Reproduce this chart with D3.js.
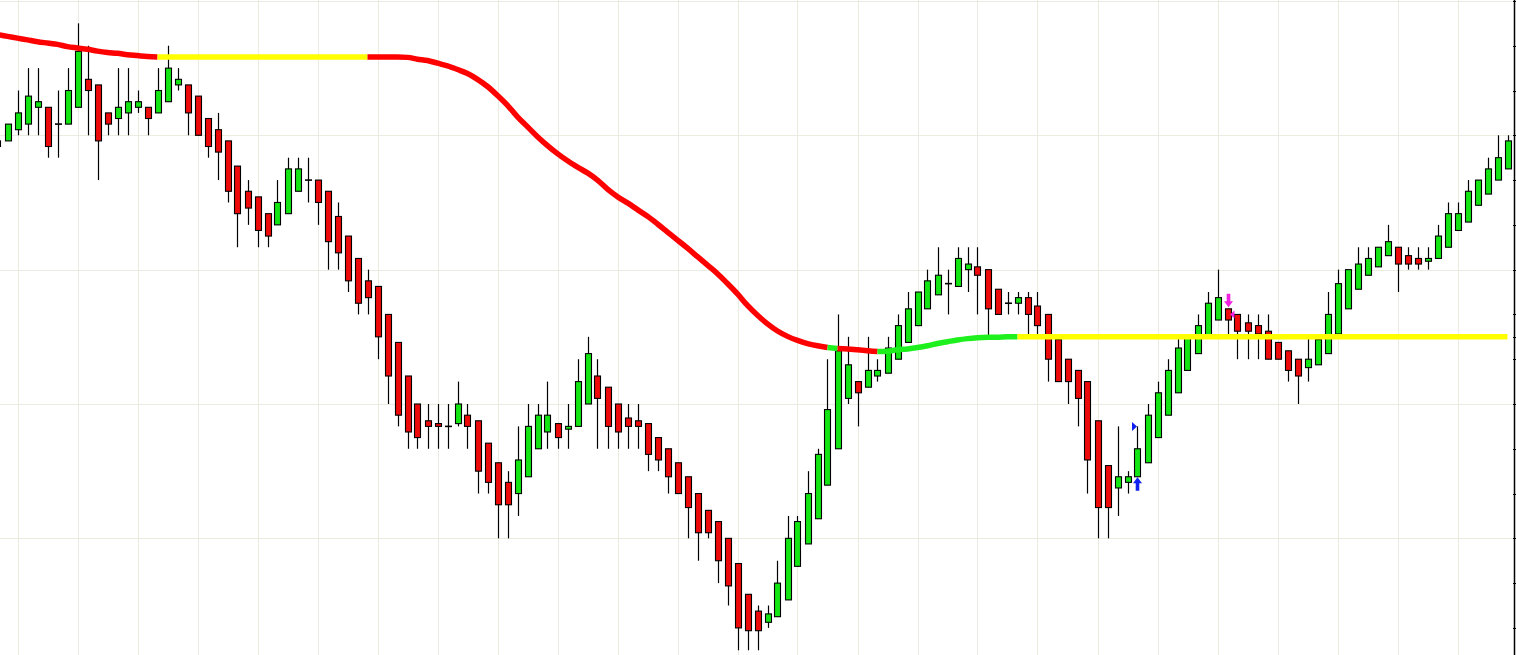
<!DOCTYPE html>
<html>
<head>
<meta charset="utf-8">
<script src="https://cdn.jsdelivr.net/npm/d3@7"></script>
<style>
  html, body { margin: 0; padding: 0; background: #fff; overflow: hidden; }
  svg { display: block; }
</style>
</head>
<body>
<div id="chart"></div>
<script>
// bar index -1 is the one cut by the left edge
const firstBar = -1;

const opens = [
  110.75, 110.875, 111.125, 111.25, 111.625, 111.625, 111.25, 111.25, 111.625, 112.25, 112.125,
  111.5, 111.375, 111.5, 111.625, 111.625, 111.5, 111.75, 112.125, 112.125, 111.875,
  111.375, 111.125, 110.875, 110.3125, 109.75, 109.625, 109.25, 109, 109.25, 109.75,
  110, 110, 109.75, 109.1875, 108.75, 108.25, 107.75, 107.625, 107, 106.375,
  105.625, 105, 104.625, 104.5625, 104.5, 104.5625, 104.75, 104.625, 104.125, 103.6875,
  103.25, 103, 103.375, 104, 104.375, 104.5625, 104.4375, 104.5, 105, 105.625,
  105.375, 105, 104.6875, 104.625, 104.5625, 104.25, 104, 103.6875, 103.375, 103,
  102.625, 102.375, 102, 101.4375, 100.75, 100.375, 100.125, 100.25, 100.625, 101.375,
  101.875, 102.4375, 103.1875, 104, 105.125, 105.5, 105.375, 105.625, 105.6875, 106,
  106.375, 106.75, 107.125, 107.4375, 107.6875, 107.625, 108, 108.0625, 108, 107.5625,
  107.25, 107.25, 107.375, 107.1875, 107, 106.4375, 106, 105.75, 105.5, 104.625,
  103.625, 103.125, 103.25, 103.375, 103.6875, 104.25, 104.75, 105.25, 105.75, 106.125,
  106.5, 106.875, 107.125, 107, 106.8125, 106.75, 106.625, 106.375, 106.1875, 106,
  105.8125, 105.875, 106.125, 106.5625, 107.125, 107.5625, 107.875, 108.0625, 108.3125, 108.5,
  108.3125, 108.25, 108.1875, 108.25, 108.5, 108.875, 109.0625, 109.4375, 109.6875, 110,
  110.25
];
const highs = [
  111, 111.25, 112, 112.5, 112.5, 111.625, 112, 112.5, 113.5, 113, 112.125,
  111.5, 112.5, 112.5, 112, 111.625, 112.5, 113, 112.5, 112.125, 111.875,
  111.375, 111.5, 110.875, 110.3125, 110, 109.625, 109.25, 110, 110.5, 110.5,
  110.5, 110, 109.75, 109.5, 108.75, 108.25, 108, 107.625, 107, 106.375,
  105.625, 105, 105, 105, 105, 105.5, 105, 104.625, 104.125, 103.6875,
  103.5, 104.5, 105, 105, 105.5, 104.5625, 105, 106, 106.5, 106,
  105.375, 105, 105, 105, 104.5625, 104.25, 104, 103.6875, 103.375, 103,
  102.625, 102.375, 102, 101.4375, 100.75, 100.5, 100.5, 101.5, 102.5, 102.5,
  103.5, 104, 106, 107, 106.5, 105.5, 106.5, 106, 106.5, 107,
  107.5, 107.5, 108, 108.5, 108, 108.5, 108.5, 108.5, 108, 107.5625,
  107.5, 107.5, 107.5, 107.5, 107, 106.4375, 106, 105.75, 105.5, 104.625,
  103.625, 104.5, 103.5, 104.5, 105, 105.5, 106, 106.5, 106.5, 107,
  107.5, 108, 107.125, 107, 107, 107, 107, 106.375, 106.1875, 106,
  106.5, 106.4375, 107.5, 108, 108, 108.5, 108.5, 108.5, 109, 108.5,
  108.5, 108.5, 108.5, 109, 109.5, 109.5, 110, 110, 110.5, 111,
  111
];
const lows = [
  110.625, 110.875, 111, 111, 111, 110.5, 110.5, 111.25, 111.625, 111, 110,
  111, 111, 111, 111.5, 111, 111.5, 111.75, 112, 111, 111,
  110.5, 110, 109.5, 108.5, 109, 108.5, 108.5, 109, 109.25, 109.75,
  109.5, 109, 108, 108, 107.5, 107, 107, 106, 105, 104.5,
  104, 104, 104, 104, 104, 104.5, 104, 103, 103, 102,
  102, 102.5, 103.375, 104, 104, 104, 104, 104.5, 105, 104,
  104, 104, 104, 104, 103.5, 103.5, 103, 103, 102, 101.5,
  102, 101, 100.5, 99.5, 99.5, 99.5, 100, 100.25, 100.625, 101.375,
  101.875, 102.4375, 103.1875, 104, 105, 104.5, 105.375, 105.5, 105.6875, 106,
  106.375, 106.75, 107.125, 107.4375, 107, 107.625, 107.5, 107, 106.5, 107,
  107, 107, 106.5, 106.5, 105.5, 105.5, 105, 104.5, 103, 102,
  102, 102.5, 103, 103.375, 103.6875, 104.25, 104.75, 105.25, 105.75, 106.125,
  106.5, 106.875, 106.5, 106, 106, 106, 106, 106, 105.5, 105,
  105.5, 105.875, 106.125, 106.5625, 107.125, 107.5625, 107.875, 108.0625, 108.3125, 107.5,
  108, 108, 108, 108.25, 108.5, 108.875, 109.0625, 109.4375, 109.6875, 110,
  110.25
];
const closes = [
  110.875, 111.25, 111.5, 111.875, 111.75, 110.75, 111.25, 112, 112.875, 112, 110.875,
  111.25, 111.625, 111.75, 111.75, 111.375, 112, 112.5, 112.25, 111.5, 111,
  110.75, 110.625, 109.75, 109.25, 109.375, 108.875, 108.75, 109.5, 110.25, 110.25,
  110, 109.5, 108.625, 108.375, 107.75, 107.25, 107.375, 106.5, 105.625, 104.75,
  104.375, 104.25, 104.5, 104.5, 104.5, 105, 104.5, 103.5, 103.25, 102.75,
  102.75, 103.75, 104.5, 104.75, 104.75, 104.25, 104.5, 105.5, 106.125, 105.125,
  104.5, 104.375, 104.5, 104.5, 103.875, 103.75, 103.375, 103, 102.6875, 102.125,
  102.125, 101.5, 100.9375, 100, 99.9375, 99.9375, 100.3125, 101, 102, 102.375,
  103, 103.875, 104.875, 106.1875, 105.875, 105.25, 105.75, 105.75, 106.25, 106.75,
  107.125, 107.5, 107.75, 107.875, 107.6875, 108.25, 108.125, 107.875, 107.125, 107,
  107.25, 107.375, 107, 106.75, 106, 105.5, 105.5, 105.125, 103.75, 102.6875,
  102.6875, 103.375, 103.375, 104, 104.75, 105.25, 105.75, 106.25, 106.5, 106.75,
  107.25, 107.375, 106.875, 106.625, 106.625, 106.5625, 106, 106, 105.75, 105.625,
  106, 106.4375, 107, 107.6875, 108, 108.125, 108.25, 108.5, 108.625, 108.125,
  108.125, 108.125, 108.25, 108.75, 109.25, 109.25, 109.75, 110, 110.25, 110.5,
  110.875
];

// smoothed average, one value per bar
const maValues = [
  113.25, 113.21, 113.17, 113.13, 113.09, 113.06, 113.03, 112.98, 112.95, 112.92, 112.88,
  112.85, 112.83, 112.80, 112.78, 112.76, 112.75, 112.75, 112.75, 112.75, 112.75,
  112.75, 112.75, 112.75, 112.75, 112.75, 112.75, 112.75, 112.75, 112.75, 112.75,
  112.75, 112.75, 112.75, 112.75, 112.75, 112.75, 112.75, 112.75, 112.75, 112.75,
  112.74, 112.70, 112.67, 112.61, 112.55, 112.47, 112.38, 112.25, 112.09, 111.89,
  111.67, 111.41, 111.19, 110.97, 110.77, 110.59, 110.43, 110.29, 110.16, 110.00,
  109.80, 109.63, 109.49, 109.34, 109.19, 109.02, 108.84, 108.66, 108.48, 108.29,
  108.10, 107.91, 107.69, 107.46, 107.20, 106.98, 106.79, 106.63, 106.51, 106.42,
  106.35, 106.30, 106.26, 106.24, 106.23, 106.21, 106.19, 106.17, 106.18, 106.21,
  106.23, 106.26, 106.30, 106.35, 106.39, 106.43, 106.46, 106.48, 106.49, 106.49,
  106.50, 106.50, 106.50, 106.50, 106.50, 106.50, 106.50, 106.50, 106.50, 106.50,
  106.50, 106.50, 106.50, 106.50, 106.50, 106.50, 106.50, 106.50, 106.50, 106.50,
  106.50, 106.50, 106.50, 106.50, 106.50, 106.50, 106.50, 106.50, 106.50, 106.50,
  106.50, 106.50, 106.50, 106.50, 106.50, 106.50, 106.50, 106.50, 106.50, 106.50,
  106.50, 106.50, 106.50, 106.50, 106.50, 106.50, 106.50, 106.50, 106.50, 106.50,
  106.50
];

// trend state of the average: [state, first bar, last bar]
const maTrendRuns = [
  ['down', -1, 15],
  ['flat', 16, 36],
  ['down', 37, 82],
  ['up', 83, 83],
  ['down', 84, 87],
  ['up', 88, 101],
  ['flat', 102, 150]
];

const signals = [
  { bar: 113, type: 'buy', level: 104.5 },
  { bar: 122, type: 'sell', level: 107 }
];

const priceTicks = d3.range(100, 115, 1).concat([106.5]);
const gridPrices = [102, 105, 108, 111, 114];
const gridBars = d3.range(1, 151, 6);

const width = 1516;
const height = 655;
const plotRight = 1515;

const trendColor = { down: '#ff0000', flat: '#ffff00', up: '#1ef01e' };

const bars = opens.map((o, i) => ({
  i: i + firstBar, open: o, high: highs[i], low: lows[i], close: closes[i], ma: maValues[i],
}));

const x = d3.scaleLinear().domain([0, 150]).range([7.5, 1507.5]);
const y = d3.scaleLinear().domain([100, 111]).range([627.9, 135.3]);

const svg = d3.select('#chart').append('svg')
  .attr('width', width)
  .attr('height', height);

svg.append('defs').append('clipPath').attr('id', 'plot-clip')
  .append('rect').attr('x', 0).attr('y', 0).attr('width', plotRight).attr('height', height);

svg.append('rect').attr('width', width).attr('height', height).attr('fill', '#fff');

const grid = svg.append('g').attr('class', 'grid').attr('shape-rendering', 'crispEdges');
grid.selectAll('line.v').data(gridBars).join('line')
  .attr('class', 'v')
  .attr('x1', (d) => Math.round(x(d)) + 0.5).attr('x2', (d) => Math.round(x(d)) + 0.5)
  .attr('y1', 0).attr('y2', height)
  .attr('stroke', '#ecebdf').attr('stroke-width', 1);
grid.selectAll('line.h').data(gridPrices).join('line')
  .attr('class', 'h')
  .attr('x1', 0).attr('x2', plotRight)
  .attr('y1', (d) => Math.round(y(d)) + 0.5).attr('y2', (d) => Math.round(y(d)) + 0.5)
  .attr('stroke', '#ecebdf').attr('stroke-width', 1);

const plot = svg.append('g').attr('clip-path', 'url(#plot-clip)');

// candles
const candle = plot.append('g').attr('class', 'candles')
  .selectAll('g').data(bars).join('g')
  .attr('transform', (d) => `translate(${Math.round(x(d.i))},0)`);

candle.append('line')
  .attr('x1', 0.5).attr('x2', 0.5)
  .attr('y1', (d) => y(d.high)).attr('y2', (d) => y(d.low))
  .attr('stroke', '#000').attr('stroke-width', 1.2);

candle.filter((d) => d.open !== d.close).append('rect')
  .attr('x', -2.5)
  .attr('width', 6)
  .attr('y', (d) => y(Math.max(d.open, d.close)))
  .attr('height', (d) => Math.max(1, Math.abs(y(d.open) - y(d.close))))
  .attr('fill', (d) => (d.close > d.open ? '#14e614' : '#ee0a0a'))
  .attr('stroke', '#000')
  .attr('stroke-width', 1.1);

candle.filter((d) => d.open === d.close).append('line')
  .attr('x1', -3).attr('x2', 4)
  .attr('y1', (d) => y(d.close)).attr('y2', (d) => y(d.close))
  .attr('stroke', '#000').attr('stroke-width', 1.6);

// moving average, one path per trend run
const maLine = d3.line()
  .x((d) => x(d.i))
  .y((d) => y(d.ma))
  .curve(d3.curveMonotoneX);

const maG = plot.append('g').attr('class', 'ma');
maTrendRuns.forEach(([state, from, to]) => {
  const pts = bars.filter((b) => b.i >= Math.max(firstBar, from - 1) && b.i <= to);
  maG.append('path')
    .attr('d', maLine(pts))
    .attr('fill', 'none')
    .attr('stroke', trendColor[state])
    .attr('stroke-width', 5.5)
    .attr('stroke-linecap', 'butt');
});

// signal arrows
const sigColor = { buy: '#1020ee', sell: '#f020e0' };
const sigG = plot.append('g').attr('class', 'signals');
signals.forEach((s) => {
  const b = bars.find((d) => d.i === s.bar);
  const cx = Math.round(x(s.bar)) + 0.5;
  const col = sigColor[s.type];
  const dir = s.type === 'buy' ? 1 : -1;
  const tip = s.type === 'buy' ? y(b.low) + 0.5 : y(b.high) - 1.5;
  sigG.append('path')
    .attr('d', `M${cx} ${tip} L${cx + 4.5} ${tip + dir * 6} L${cx + 1.8} ${tip + dir * 6} L${cx + 1.8} ${tip + dir * 13.5} L${cx - 1.8} ${tip + dir * 13.5} L${cx - 1.8} ${tip + dir * 6} L${cx - 4.5} ${tip + dir * 6} Z`)
    .attr('fill', col);
  const ly = y(s.level);
  if (s.type === 'buy') {
    sigG.append('path')
      .attr('d', `M${cx - 5.5} ${ly - 4.5} L${cx - 0.5} ${ly} L${cx - 5.5} ${ly + 4.5} Z`)
      .attr('fill', col);
  } else {
    sigG.append('path')
      .attr('d', `M${cx + 6} ${ly - 4} L${cx + 1.5} ${ly} L${cx + 6} ${ly + 4} Z`)
      .attr('fill', col);
  }
});

// right price axis, unlabeled
const axis = d3.axisRight(y)
  .tickValues(priceTicks)
  .tickSize(4)
  .tickSizeOuter(0)
  .tickFormat('');

const axisG = svg.append('g')
  .attr('transform', `translate(${plotRight - 2.5},0)`)
  .attr('shape-rendering', 'crispEdges')
  .call(axis);
axisG.select('.domain').remove();
axisG.selectAll('line').attr('stroke', '#000');

svg.append('line')
  .attr('x1', plotRight - 0.5).attr('x2', plotRight - 0.5)
  .attr('y1', 0).attr('y2', height)
  .attr('stroke', '#000').attr('stroke-width', 1.5);
</script>
</body>
</html>
